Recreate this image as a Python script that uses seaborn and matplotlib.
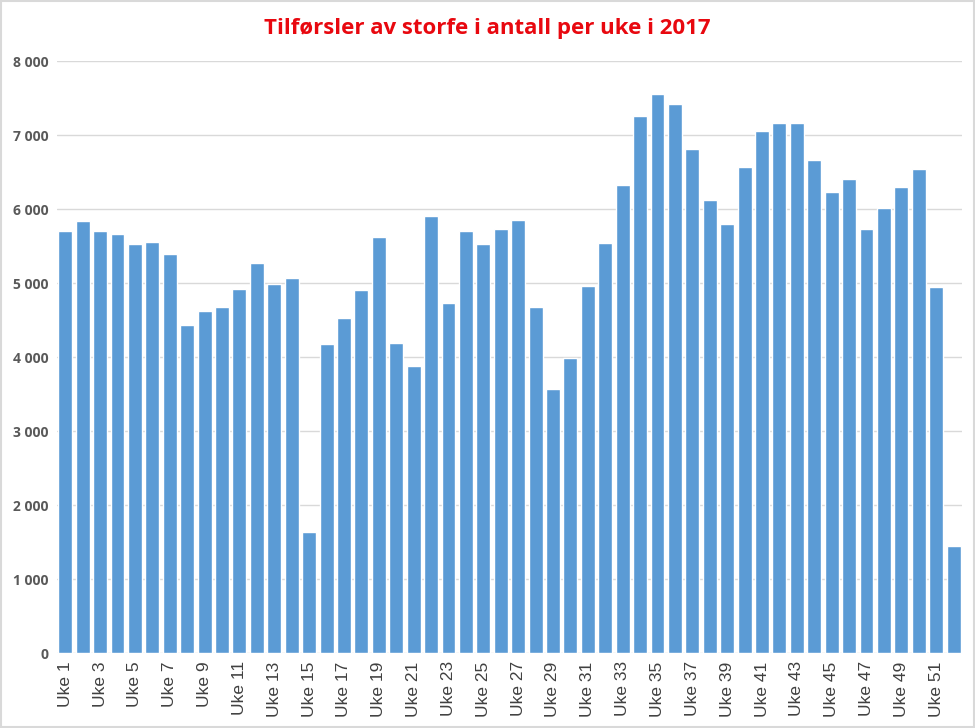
import matplotlib
matplotlib.use("Agg")
import matplotlib.pyplot as plt
import seaborn as sns
import pandas as pd
from matplotlib.patches import Rectangle
from matplotlib.ticker import FuncFormatter

weeks = [f"Uke {i}" for i in range(1, 53)]
values = [5700, 5840, 5700, 5660, 5530, 5550, 5390, 4430, 4620, 4680,
          4920, 5270, 4990, 5070, 1640, 4180, 4530, 4910, 5620, 4190,
          3880, 5910, 4730, 5700, 5530, 5730, 5850, 4680, 3570, 3990,
          4960, 5540, 6320, 7260, 7550, 7420, 6810, 6120, 5800, 6570,
          7050, 7160, 7160, 6660, 6230, 6410, 5730, 6010, 6300, 6540,
          4950, 1450]
title = "Tilførsler av storfe i antall per uke i 2017"

df = pd.DataFrame({"uke": weeks, "antall": values})

sns.set_theme(style="white")
plt.rcParams['font.family'] = ['Open Sans', 'DejaVu Sans']

fig = plt.figure(figsize=(9.75, 7.28), dpi=100)
ax = fig.add_axes([0.058, 0.103, 0.929, 0.813])

sns.barplot(data=df, x="uke", y="antall", color="#5B9BD5", saturation=1,
            width=0.8, ax=ax, zorder=3)

ax.set_ylim(0, 8000)
ax.set_xlim(-0.5, len(weeks) - 0.5)
ax.set_yticks(range(0, 8001, 1000))
ax.yaxis.set_major_formatter(FuncFormatter(lambda v, p: f"{int(v):,}".replace(",", " ")))
ax.grid(axis="y", color="#D9D9D9", linewidth=1, zorder=0)
ax.set_axisbelow(True)
for s in ax.spines.values():
    s.set_visible(False)
ax.set_xlabel("")
ax.set_ylabel("")

ax.set_xticks(range(0, len(weeks), 2))
ax.set_xticklabels(weeks[::2], rotation=90, fontsize=12.5, color="#404040",
                   family=['Liberation Sans', 'DejaVu Sans'])
for lbl in ax.get_yticklabels():
    lbl.set_fontweight("bold")
    lbl.set_fontsize(10)
    lbl.set_color("#595959")
ax.tick_params(axis="both", length=0, pad=6)

fig.text(0.5, 0.961, title, ha="center", va="center", color="#E8080F",
         fontsize=16, fontweight="bold", family=['Open Sans', 'DejaVu Sans'])

fig.patches.append(Rectangle((0.001, 0.001), 0.998, 0.998, transform=fig.transFigure,
                             fill=False, edgecolor="#D9D9D9", linewidth=1.5))

fig.savefig("out.png", dpi=100)
